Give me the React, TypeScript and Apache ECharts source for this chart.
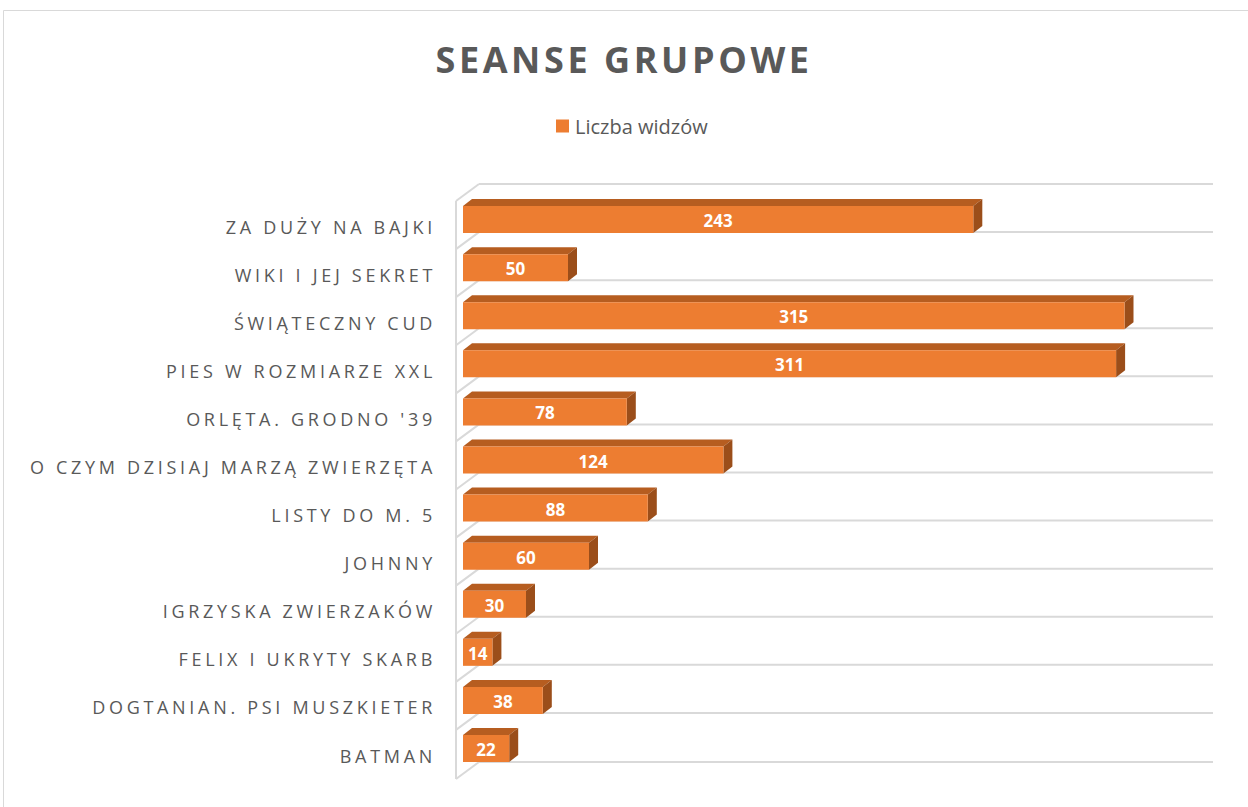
import React, { useEffect, useRef } from 'react';
import * as echarts from 'echarts';

const TITLE = 'SEANSE GRUPOWE';
const SERIES_NAME = 'Liczba widzów';
const categories = [
  'ZA DUŻY NA BAJKI',
  'WIKI I JEJ SEKRET',
  'ŚWIĄTECZNY CUD',
  'PIES W ROZMIARZE XXL',
  "ORLĘTA. GRODNO '39",
  'O CZYM DZISIAJ MARZĄ ZWIERZĘTA',
  'LISTY DO M. 5',
  'JOHNNY',
  'IGRZYSKA ZWIERZAKÓW',
  'FELIX I UKRYTY SKARB',
  'DOGTANIAN. PSI MUSZKIETER',
  'BATMAN',
];
const values = [243, 50, 315, 311, 78, 124, 88, 60, 30, 14, 38, 22];
const VALUE_MIN = 0;
const VALUE_MAX = 350;

const FONT = '"Open Sans", "Noto Sans", sans-serif';
const GRID_COLOR = '#d9d9d9';
const TEXT_COLOR = '#595959';
const BAR_FRONT = '#ED7D31';
const BAR_TOP = '#b65d20';
const BAR_SIDE = '#9b4e1a';

export default function App() {
  const ref = useRef<HTMLDivElement>(null);

  useEffect(() => {
    if (!ref.current) return;
    const chart = echarts.init(ref.current, null, { renderer: 'svg' });
    const FACE_H = 27;
    const DX = 9;
    const DY = 7;
    const WALL_DX = 23;
    const WALL_DY = 17;

    const option: any = {
      animation: false,
      backgroundColor: '#ffffff',
      title: {
        text: TITLE,
        left: 'center',
        top: 36,
        textStyle: { fontFamily: FONT, fontSize: 36, fontWeight: 'bold', color: TEXT_COLOR },
      },
      legend: {
        left: 551,
        top: 111,
        icon: 'rect',
        itemWidth: 13,
        itemHeight: 13,
        itemGap: 10,
        data: [SERIES_NAME],
        textStyle: { fontFamily: FONT, fontSize: 20, color: TEXT_COLOR, padding: [0, 0, 0, 1] },
      },
      graphic: [
        {
          type: 'rect',
          shape: { x: 3.5, y: 10.5, width: 1300, height: 900 },
          style: { fill: 'none', stroke: GRID_COLOR, lineWidth: 1 },
          silent: true,
        },
      ],
      grid: { left: 463, right: 50, top: 186, bottom: 44, containLabel: false },
      xAxis: {
        type: 'value',
        min: VALUE_MIN,
        max: VALUE_MAX,
        show: false,
      },
      yAxis: {
        type: 'category',
        data: categories,
        inverse: true,
        show: false,
      },
      series: [
        {
          type: 'custom',
          name: 'walls',
          silent: true,
          z: 1,
          encode: { x: 1, y: 0 },
          data: categories.map((_, i) => [i, 0]),
          renderItem: (params: any, api: any) => {
            const i = api.value(0);
            const band = api.size([0, 1])[1];
            const p = api.coord([0, i]);
            const xl = p[0];
            const xr = api.coord([VALUE_MAX, i])[0];
            const yc = p[1];
            const st = { stroke: GRID_COLOR, lineWidth: 2 };
            const mk = (y: number) => [
              { type: 'line', shape: { x1: xl + WALL_DX - 7, y1: y, x2: xr + 15, y2: y }, style: st },
              { type: 'line', shape: { x1: xl - 7, y1: y + WALL_DY, x2: xl + WALL_DX - 7, y2: y }, style: st },
            ];
            const ytop = yc - band / 2 - 2;
            const children: any[] = [...mk(ytop)];
            if (i === categories.length - 1) {
              children.push(...mk(yc + band / 2 - 1));
            }
            if (i === 0) {
              const yBottom = ytop + band * categories.length + 1;
              children.push({
                type: 'line',
                shape: { x1: xl - 7, y1: ytop + WALL_DY, x2: xl - 7, y2: yBottom + WALL_DY },
                style: st,
              });
            }
            return { type: 'group', children };
          },
        },
        {
          type: 'custom',
          name: SERIES_NAME,
          z: 2,
          itemStyle: { color: BAR_FRONT },
          encode: { x: 0, y: 1 },
          data: values.map((v, i) => [v, i]),
          renderItem: (params: any, api: any) => {
            const v = api.value(0);
            const i = api.value(1);
            const end = api.coord([v, i]);
            const x1 = end[0];
            const yc = end[1];
            const x0 = api.coord([0, i])[0];
            const band = api.size([0, 1])[1];
            const yb = yc + band / 2 - 1;
            const yt = yb - FACE_H;
            const ym = (yt + yb) / 2;
            return {
              type: 'group',
              children: [
                {
                  type: 'polygon',
                  shape: { points: [[x0, yt], [x1, yt], [x1 + DX, yt - DY], [x0 + DX, yt - DY]] },
                  style: { fill: BAR_TOP },
                },
                {
                  type: 'polygon',
                  shape: { points: [[x1, yt], [x1 + DX, yt - DY], [x1 + DX, yb - DY], [x1, yb]] },
                  style: { fill: BAR_SIDE },
                },
                {
                  type: 'rect',
                  shape: { x: x0, y: yt, width: x1 - x0, height: FACE_H },
                  style: { fill: BAR_FRONT },
                },
                {
                  type: 'text',
                  style: {
                    text: String(v),
                    x: (x0 + x1) / 2,
                    y: ym + 1,
                    align: 'center',
                    verticalAlign: 'middle',
                    fill: '#ffffff',
                    font: `bold 17px ${FONT}`,
                  },
                },
                {
                  type: 'text',
                  style: {
                    text: categories[i],
                    x: x0 - 27,
                    y: ym + 7,
                    align: 'right',
                    verticalAlign: 'middle',
                    fill: TEXT_COLOR,
                    font: `18px ${FONT}`,
                  },
                },
              ],
            };
          },
        },
      ],
    };

    chart.setOption(option);

    const applySpacing = () => {
      const root = ref.current;
      if (!root) return;
      root.querySelectorAll('text').forEach((t) => {
        const s = t.textContent || '';
        if (categories.includes(s)) t.setAttribute('letter-spacing', '3.7');
        else if (s === TITLE) t.setAttribute('letter-spacing', '3.6');
      });
    };
    applySpacing();
    chart.on('finished', applySpacing);

    return () => {
      chart.dispose();
    };
  }, []);

  return (
    <div
      ref={ref}
      style={{ position: 'fixed', left: 0, top: 0, width: 1248, height: 807, background: '#fff' }}
    />
  );
}
